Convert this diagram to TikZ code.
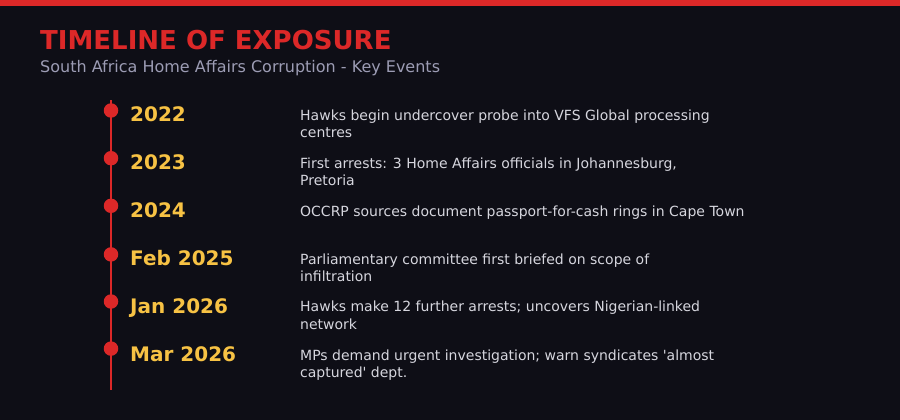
\documentclass[tikz,border=0pt]{standalone}
\usepackage{fontspec}
\setmainfont{DejaVu Sans}
\usepackage{tikz}
\usetikzlibrary{positioning}

\definecolor{bgdark}{HTML}{0E0E16}
\definecolor{alertred}{HTML}{DC2828}
\definecolor{yearyel}{HTML}{F7C244}
\definecolor{subgrey}{HTML}{9C9CB4}
\definecolor{descgrey}{HTML}{D6D6DE}

\begin{document}
\begin{tikzpicture}[
  x=1pt, y=-1pt,
  titlelab/.style={anchor=base west, inner sep=0pt, text=alertred,
    font=\fontsize{26}{30}\selectfont\bfseries},
  sublab/.style={anchor=base west, inner sep=0pt, text=subgrey,
    font=\fontsize{16}{19}\selectfont},
  dot/.style={circle, fill=alertred, inner sep=0pt, minimum size=14.5pt},
  yearlab/.style={anchor=base west, inner sep=0pt, text=yearyel,
    font=\fontsize{20}{24}\selectfont\bfseries},
  % base anchor sits on the last line, so two-line texts go one line lower
  desclab/.style={anchor=base west, inner sep=0pt, text=descgrey,
    align=left, font=\fontsize{14}{17.5}\selectfont},
  spine/.style={draw=alertred, line width=2pt},
]

%%% Canvas and top bar
\useasboundingbox (0,0) rectangle (900,420);
\fill[bgdark] (0,0) rectangle (900,420);
\fill[alertred] (0,0) rectangle (900,6);

%%% Heading
\node[titlelab] (title) at (40,50) {TIMELINE OF EXPOSURE};
\node[sublab]   (sub)   at (40,73) {South Africa Home Affairs Corruption - Key Events};

%%% Spine
\coordinate (top) at (111,100);
\coordinate (bot) at (111,390);
\draw[spine] (top) -- (bot);

%%% Dots on the spine
\node[dot] (d1) at (111,110.5) {};
\node[dot] (d2) at (111,158.2) {};
\node[dot] (d3) at (111,205.8) {};
\node[dot] (d4) at (111,254.4) {};
\node[dot] (d5) at (111,301.5) {};
\node[dot] (d6) at (111,348.6) {};

%%% Year labels
\node[yearlab] (y1) at (130,121.5) {2022};
\node[yearlab] (y2) at (130,169.5) {2023};
\node[yearlab] (y3) at (130,217.5) {2024};
\node[yearlab] (y4) at (130,265.2) {Feb 2025};
\node[yearlab] (y5) at (130,313.2) {Jan 2026};
\node[yearlab] (y6) at (130,361.0) {Mar 2026};

%%% Event descriptions
\node[desclab] (e1) at (300,137.5) {Hawks begin undercover probe into VFS Global processing\\centres};
\node[desclab] (e2) at (300,185.7) {First arrests: 3 Home Affairs officials in Johannesburg,\\Pretoria};
\node[desclab] (e3) at (300,216.0) {OCCRP sources document passport-for-cash rings in Cape Town};
\node[desclab] (e4) at (300,281.5) {Parliamentary committee first briefed on scope of\\infiltration};
\node[desclab] (e5) at (300,329.3) {Hawks make 12 further arrests; uncovers Nigerian-linked\\network};
\node[desclab] (e6) at (300,377.5) {MPs demand urgent investigation; warn syndicates \textquotesingle almost\\captured\textquotesingle\ dept.};

\end{tikzpicture}
\end{document}
